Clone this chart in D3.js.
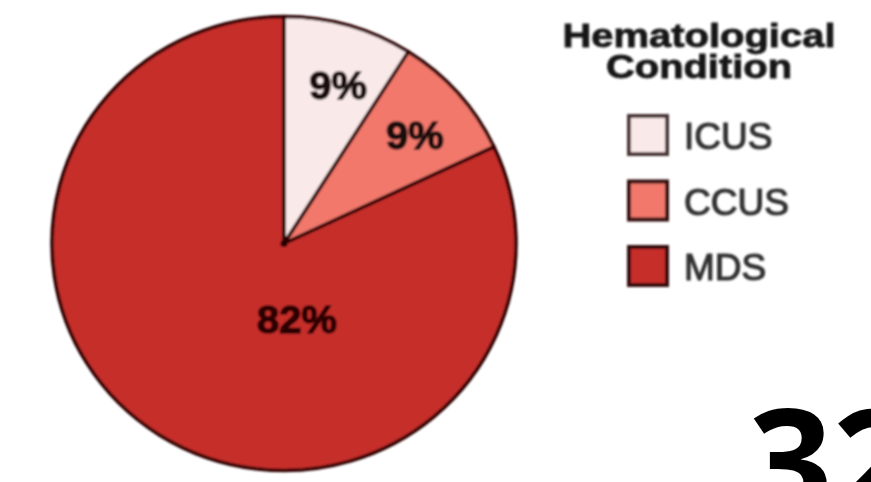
<!DOCTYPE html>
<html>
<head>
<meta charset="utf-8">
<script src="https://cdn.jsdelivr.net/npm/d3@7"></script>
<style>
  html, body { margin: 0; padding: 0; background: #fff; }
  svg { display: block; }
</style>
</head>
<body>
<svg id="chart" width="871" height="482"></svg>
<script>
// Share of patients by hematological condition
const categories = ["ICUS", "CCUS", "MDS"];
const shares = [9, 9, 82];
const shareLabels = ["9%", "9%", "82%"];
const colors = ["#fae9e9", "#f2786c", "#c62e2a"];
const legendTitle = ["Hematological", "Condition"];
const cornerNumber = "32";

const W = 871, H = 482;
const svg = d3.select("#chart");

const defs = svg.append("defs");
defs.append("filter").attr("id", "soft")
  .attr("x", "-5%").attr("y", "-5%").attr("width", "110%").attr("height", "110%")
  .append("feGaussianBlur").attr("stdDeviation", 1.2);

const root = svg.append("g").attr("filter", "url(#soft)");

// ---- pie ----
const cx = 284, cy = 243.5, R = 227, stretchX = 1.022;
const pie = d3.pie().sort(null).value(d => d)(shares);
const arc = d3.arc().innerRadius(0).outerRadius(R);
const labelArc = d3.arc().innerRadius(168).outerRadius(168);

const pieG = root.append("g")
  .attr("transform", `translate(${cx},${cy}) scale(${stretchX},1)`);

pieG.selectAll("path.slice")
  .data(pie)
  .join("path")
  .attr("class", "slice")
  .attr("d", arc)
  .attr("fill", (d, i) => colors[i])
  .attr("stroke", "#2e0606")
  .attr("stroke-width", 3.5)
  .attr("stroke-linejoin", "round");

pieG.append("circle").attr("r", 3.5).attr("fill", "#220505");

// label placement: small slices on their centroid, the large slice just below the centre
function labelPos(d, i) {
  if (d.endAngle - d.startAngle > Math.PI) {
    const a = 172 * Math.PI / 180, r = 77;
    return [r * Math.sin(a), -r * Math.cos(a)];
  }
  return labelArc.centroid(d);
}

pieG.selectAll("text.pct")
  .data(pie)
  .join("text")
  .attr("class", "pct")
  .attr("x", (d, i) => labelPos(d, i)[0] + (i === 0 ? 6 : 2))
  .attr("y", (d, i) => labelPos(d, i)[1] + (i === 2 ? -1 : 3))
  .attr("dy", "0.36em")
  .attr("text-anchor", "middle")
  .attr("font-family", "'Liberation Sans', Arial, sans-serif")
  .attr("font-weight", "bold")
  .attr("font-size", 39)
  .attr("fill", (d, i) => i === 2 ? "#2a0606" : "#1a1010")
  .attr("stroke", (d, i) => i === 2 ? "#2a0606" : "#1a1010")
  .attr("stroke-width", 1.6)
  .text((d, i) => shareLabels[i]);

// ---- legend ----
const legendX = 699;
const titleWidths = [273, 186];
root.selectAll("text.ltitle")
  .data(legendTitle)
  .join("text")
  .attr("class", "ltitle")
  .attr("x", legendX)
  .attr("y", (d, i) => 47 + i * 31)
  .attr("text-anchor", "middle")
  .attr("font-family", "'Liberation Sans', Arial, sans-serif")
  .attr("font-weight", "bold")
  .attr("font-size", 33)
  .attr("textLength", (d, i) => titleWidths[i])
  .attr("lengthAdjust", "spacingAndGlyphs")
  .attr("fill", "#151515")
  .attr("stroke", "#151515")
  .attr("stroke-width", 0.8)
  .text(d => d);

const rowY = d3.scalePoint().domain(categories).range([135, 266]);
const item = root.selectAll("g.item")
  .data(categories)
  .join("g")
  .attr("class", "item")
  .attr("transform", d => `translate(0,${rowY(d)})`);

item.append("rect")
  .attr("x", 629).attr("y", -19)
  .attr("width", 38).attr("height", 38)
  .attr("fill", (d, i) => colors[i])
  .attr("stroke", (d, i) => i === 0 ? "#4a3535" : "#300808")
  .attr("stroke-width", 4);

item.append("text")
  .attr("x", 684).attr("y", 14)
  .attr("font-family", "'Liberation Sans', Arial, sans-serif")
  .attr("font-size", 37)
  .attr("fill", "#333")
  .attr("stroke", "#333")
  .attr("stroke-width", 1.2)
  .text(d => d);

// ---- corner number ----
svg.append("text")
  .attr("x", 748).attr("y", 515)
  .attr("font-family", "'Open Sans', sans-serif")
  .attr("font-weight", "bold")
  .attr("font-size", 148)
  .attr("fill", "#000")
  .text(cornerNumber);
</script>
</body>
</html>
